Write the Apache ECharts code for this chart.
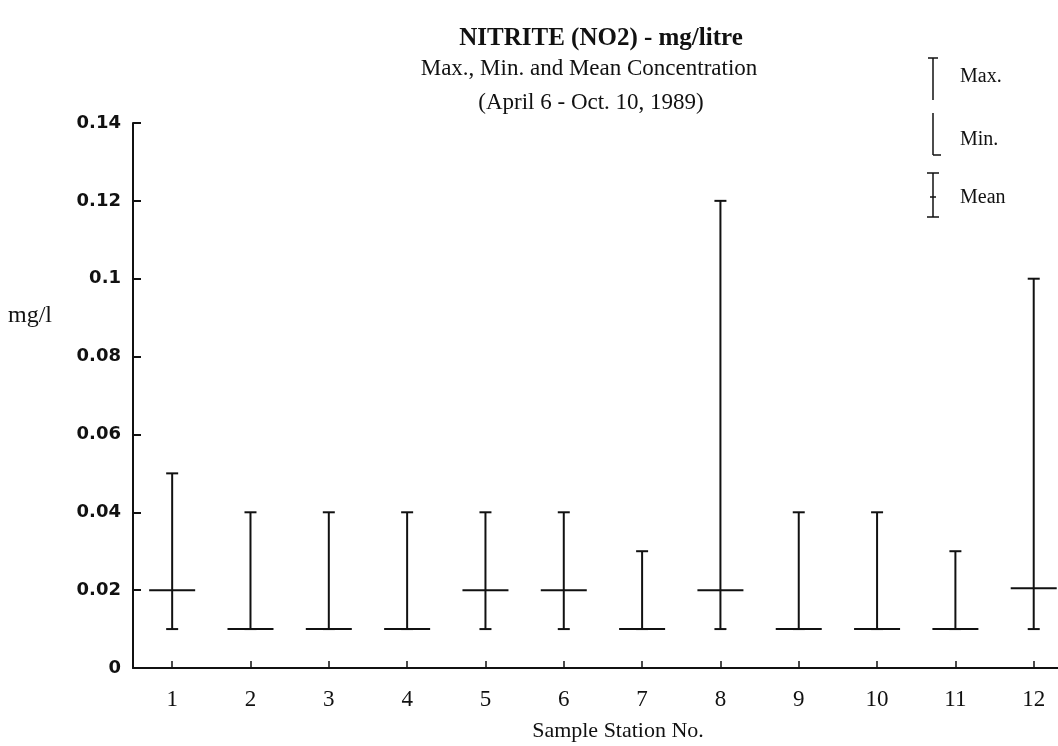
<!DOCTYPE html>
<html>
<head>
<meta charset="utf-8">
<script src="https://cdn.jsdelivr.net/npm/echarts@6/dist/echarts.min.js"></script>
<style>
  html, body { margin: 0; padding: 0; background: #fff; }
  #chart { width: 1058px; height: 746px; }
</style>
</head>
<body>
<div id="chart"></div>
<script>
// station numbers and nitrite values (mg/l)
const stations = ['1', '2', '3', '4', '5', '6', '7', '8', '9', '10', '11', '12']
const maxValues = [0.05, 0.04, 0.04, 0.04, 0.04, 0.04, 0.03, 0.12, 0.04, 0.04, 0.03, 0.10]
const minValues = [0.01, 0.01, 0.01, 0.01, 0.01, 0.01, 0.01, 0.01, 0.01, 0.01, 0.01, 0.01]
const meanValues = [0.02, 0.01, 0.01, 0.01, 0.02, 0.02, 0.01, 0.02, 0.01, 0.01, 0.01, 0.0205]
const yTicks = [0, 0.02, 0.04, 0.06, 0.08, 0.1, 0.12, 0.14]

const ink = '#111'
const serif = '"Liberation Serif", "DejaVu Serif", serif'

// x positions are station indexes, so the axis can run past the last station
let stationIndexes = stations.map((name, i) => i)
let seriesData = stations.map((name, i) => {
  return [i, minValues[i], maxValues[i], meanValues[i]]
})

// draws stem, max cap, min cap and mean bar for one station
function renderRange(params, api) {
  let x = api.value(0)
  let low = api.coord([x, api.value(1)])
  let high = api.coord([x, api.value(2)])
  let mean = api.coord([x, api.value(3)])
  let style = { stroke: ink, lineWidth: 2 }
  let capHalf = 6
  let meanHalf = 23
  return {
    type: 'group',
    children: [
      { type: 'line', shape: { x1: low[0], y1: low[1], x2: high[0], y2: high[1] }, style: style },
      { type: 'line', shape: { x1: high[0] - capHalf, y1: high[1], x2: high[0] + capHalf, y2: high[1] }, style: style },
      { type: 'line', shape: { x1: low[0] - capHalf, y1: low[1], x2: low[0] + capHalf, y2: low[1] }, style: style },
      { type: 'line', shape: { x1: mean[0] - meanHalf, y1: mean[1], x2: mean[0] + meanHalf, y2: mean[1] }, style: style }
    ]
  }
}

function legendLine(x1, y1, x2, y2) {
  return {
    type: 'line',
    shape: { x1: x1, y1: y1, x2: x2, y2: y2 },
    style: { stroke: ink, lineWidth: 1.5 }
  }
}

function legendText(x, y, text) {
  return {
    type: 'text',
    x: x,
    y: y,
    style: { text: text, font: '20px ' + serif, fill: ink, verticalAlign: 'middle' }
  }
}

const chart = echarts.init(document.getElementById('chart'))

let option = {
  backgroundColor: '#fff',
  animation: false,
  grid: {
    left: 133,
    top: 123,
    right: 0,
    height: 545
  },
  xAxis: {
    type: 'value',
    min: -0.5,
    max: 11.31,
    axisLine: { show: true, onZero: false, lineStyle: { color: ink, width: 2 } },
    axisTick: {
      show: true,
      inside: true,
      length: 7,
      customValues: stationIndexes,
      lineStyle: { color: ink, width: 1.5 }
    },
    axisLabel: {
      fontFamily: serif,
      fontSize: 23,
      color: ink,
      margin: 20,
      customValues: stationIndexes,
      formatter: function (value) {
        return stations[Math.round(value)]
      }
    },
    splitLine: { show: false }
  },
  yAxis: {
    type: 'value',
    min: 0,
    max: 0.14,
    interval: 0.02,
    axisLine: { show: true, onZero: false, lineStyle: { color: ink, width: 2 } },
    axisTick: { inside: true, length: 8, lineStyle: { color: ink, width: 2 } },
    axisLabel: {
      fontFamily: '"DejaVu Sans", sans-serif',
      fontWeight: 'bold',
      fontSize: 18,
      color: ink,
      margin: 12,
      formatter: function (value) {
        let found = yTicks.find(t => Math.abs(t - value) < 1e-9)
        return found === undefined ? '' : String(found)
      }
    },
    splitLine: { show: false }
  },
  series: [{
    type: 'custom',
    renderItem: renderRange,
    encode: { x: 0, y: [1, 2, 3] },
    data: seriesData
  }],
  graphic: [
    {
      type: 'text',
      x: 601,
      y: 39,
      style: { text: 'NITRITE (NO2) - mg/litre', font: 'bold 25px ' + serif, fill: ink, align: 'center', verticalAlign: 'middle' }
    },
    {
      type: 'text',
      x: 589,
      y: 69,
      style: { text: 'Max., Min. and Mean Concentration', font: '23px ' + serif, fill: ink, align: 'center', verticalAlign: 'middle' }
    },
    {
      type: 'text',
      x: 591,
      y: 103,
      style: { text: '(April 6 - Oct. 10, 1989)', font: '23px ' + serif, fill: ink, align: 'center', verticalAlign: 'middle' }
    },
    {
      type: 'text',
      x: 8,
      y: 316,
      style: { text: 'mg/l', font: '24px ' + serif, fill: ink, verticalAlign: 'middle' }
    },
    {
      type: 'text',
      x: 618,
      y: 731,
      style: { text: 'Sample Station No.', font: '22px ' + serif, fill: ink, align: 'center', verticalAlign: 'middle' }
    },
    // legend: max
    legendLine(933, 58, 933, 100),
    legendLine(928, 58, 938, 58),
    legendText(960, 77, 'Max.'),
    // legend: min
    legendLine(933, 113, 933, 155),
    legendLine(933, 155, 941, 155),
    legendText(960, 140, 'Min.'),
    // legend: mean
    legendLine(933, 173, 933, 217),
    legendLine(927, 173, 939, 173),
    legendLine(927, 217, 939, 217),
    legendLine(930, 197, 936, 197),
    legendText(960, 198, 'Mean')
  ]
}

chart.setOption(option)
</script>
</body>
</html>
